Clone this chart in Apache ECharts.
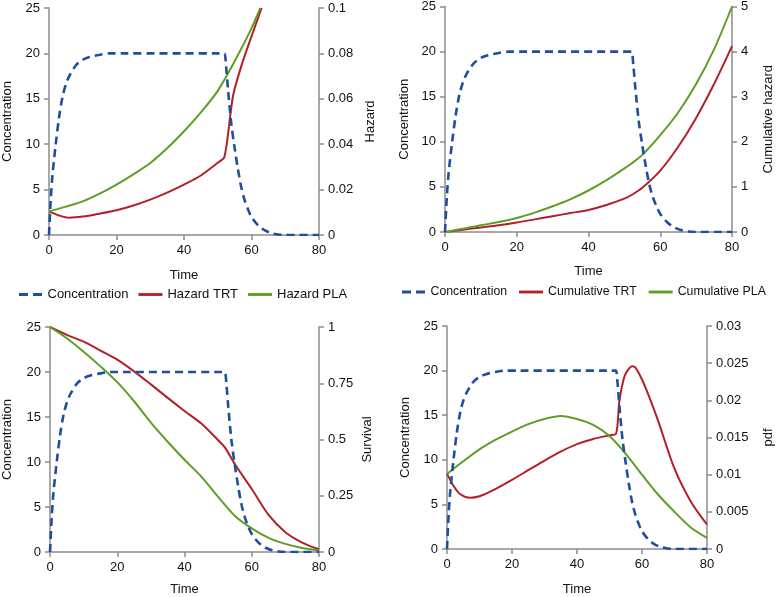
<!DOCTYPE html>
<html><head><meta charset="utf-8">
<script src="https://cdn.jsdelivr.net/npm/echarts@6/dist/echarts.min.js"></script>
<style>html,body{margin:0;padding:0;background:#fff}#c{width:776px;height:597px}</style>
</head><body><div id="c"></div>
<script>
// Concentration (same profile in all four panels)
var concTime   = [0, 0.5, 1, 2, 3, 4, 5, 6, 8, 10, 12, 15, 18, 22, 50, 51.5, 52, 52.5, 53, 54, 55, 56, 57, 58, 59, 60, 62, 64, 66, 68, 70, 80];
var concValues = [0, 3.8, 6.5, 10, 13, 15.2, 16.6, 17.5, 18.7, 19.3, 19.6, 19.85, 20, 20, 20, 20, 20, 18.5, 16.2, 12.3, 9.6, 7.2, 5.2, 3.8, 2.8, 2.0, 1.05, 0.5, 0.2, 0.05, 0, 0];

// Panel 1: hazard
var hazTrtTime   = [0, 3, 6, 10, 15, 20, 25, 30, 35, 40, 45, 50, 52, 54.5, 57, 60, 63];
var hazTrtValues = [0.0104, 0.0086, 0.0076, 0.0081, 0.0094, 0.0109, 0.0130, 0.0156, 0.0187, 0.0222, 0.0262, 0.0318, 0.0345, 0.061, 0.0745, 0.0875, 0.1];
var hazPlaTime   = [0, 5, 10, 15, 20, 25, 30, 35, 40, 45, 50, 55, 60, 62.6];
var hazPlaValues = [0.0104, 0.0125, 0.0148, 0.0182, 0.0222, 0.0267, 0.0317, 0.0382, 0.0457, 0.054, 0.0635, 0.0765, 0.091, 0.1];

// Panel 2: cumulative hazard
var cumTime      = [0, 5, 10, 15, 20, 25, 30, 35, 40, 45, 50, 52, 55, 60, 65, 70, 75, 80];
var cumTrtValues = [0, 0.05, 0.1, 0.15, 0.21, 0.28, 0.35, 0.42, 0.49, 0.6, 0.74, 0.82, 0.98, 1.36, 1.89, 2.53, 3.28, 4.12];
var cumPlaValues = [0, 0.07, 0.15, 0.22, 0.31, 0.43, 0.57, 0.73, 0.92, 1.15, 1.41, 1.52, 1.71, 2.15, 2.65, 3.28, 4.05, 5.0];

// Panel 3: survival
var survTrtTime   = [0, 5, 10, 15, 20, 25, 30, 35, 40, 45, 50, 52, 55, 60, 65, 70, 75, 80];
var survTrtValues = [1, 0.965, 0.935, 0.895, 0.855, 0.803, 0.745, 0.685, 0.627, 0.571, 0.497, 0.465, 0.39, 0.28, 0.165, 0.088, 0.042, 0.012];
var survPlaTime   = [0, 5, 10, 15, 20, 25, 30, 35, 40, 45, 50, 55, 60, 65, 70, 75, 80];
var survPlaValues = [1, 0.95, 0.89, 0.825, 0.755, 0.67, 0.575, 0.49, 0.41, 0.335, 0.245, 0.16, 0.105, 0.063, 0.036, 0.018, 0.007];

// Panel 4: pdf
var pdfTrtTime   = [0, 2, 4, 7, 10, 15, 20, 25, 30, 35, 40, 45, 50, 52, 53, 54, 55, 57, 58, 60, 62, 65, 70, 75, 80];
var pdfTrtValues = [0.0101, 0.0085, 0.0074, 0.0069, 0.0071, 0.0081, 0.0093, 0.0106, 0.0119, 0.0131, 0.0141, 0.0148, 0.0153, 0.0155, 0.0198, 0.0222, 0.0236, 0.0246, 0.0244, 0.0228, 0.0207, 0.0172, 0.0108, 0.0064, 0.0033];
var pdfPlaTime   = [0, 5, 10, 15, 20, 25, 30, 35, 40, 45, 50, 55, 60, 65, 70, 75, 80];
var pdfPlaValues = [0.0101, 0.0118, 0.0134, 0.0147, 0.0158, 0.0168, 0.0175, 0.0179, 0.0175, 0.0167, 0.0152, 0.0128, 0.0100, 0.0073, 0.0050, 0.0029, 0.0015];

var timeTicks = {min: 0, max: 80, interval: 20};

var BLUE = '#1f4e9e', RED = '#b3202a', GREEN = '#5f9e25', AXIS = '#8c8c8c', TXT = '#111';
var FONT = 'Liberation Sans, Arial, sans-serif';
var FS = 13;

function pairs(t, v) { return t.map(function (x, i) { return [x, v[i]]; }); }

var grids = [
  {left: 48, top: 8, width: 271, height: 227},
  {left: 445, top: 6, width: 287, height: 226},
  {left: 48, top: 327, width: 271, height: 226},
  {left: 447, top: 326, width: 264, height: 227}
];

function xAx(i, gap) {
  return {type: 'value', gridIndex: i, min: timeTicks.min, max: timeTicks.max, interval: timeTicks.interval,
    name: 'Time', nameLocation: 'middle', nameGap: gap,
    nameTextStyle: {color: TXT, fontSize: FS, fontFamily: FONT},
    axisLine: {show: true, lineStyle: {color: AXIS, width: 1.5}},
    axisTick: {show: true, length: 5, lineStyle: {color: AXIS, width: 1.5}},
    axisLabel: {color: TXT, fontSize: FS, fontFamily: FONT, margin: 9},
    splitLine: {show: false}};
}
function yAx(i, pos, name, max, interval, gap) {
  return {type: 'value', gridIndex: i, position: pos, min: 0, max: max, interval: interval,
    name: name, nameLocation: 'middle', nameGap: gap, nameRotate: 90,
    nameTextStyle: {color: TXT, fontSize: FS, fontFamily: FONT},
    axisLine: {show: true, lineStyle: {color: AXIS, width: 1.5}},
    axisTick: {show: true, length: 5, lineStyle: {color: AXIS, width: 1.5}},
    axisLabel: {color: TXT, fontSize: FS, fontFamily: FONT, margin: 9},
    splitLine: {show: false}};
}

var xAxes = [xAx(0, 34), xAx(1, 33), xAx(2, 31), xAx(3, 34)];
var yAxes = [
  yAx(0, 'left', 'Concentration', 25, 5, 35),
  yAx(0, 'right', 'Hazard', 0.1, 0.02, 45),
  yAx(1, 'left', 'Concentration', 25, 5, 34),
  yAx(1, 'right', 'Cumulative hazard', 5, 1, 30),
  yAx(2, 'left', 'Concentration', 25, 5, 36),
  yAx(2, 'right', 'Survival', 1, 0.25, 42),
  yAx(3, 'left', 'Concentration', 25, 5, 35),
  yAx(3, 'right', 'pdf', 0.03, 0.005, 55)
];

var DASH_ICON = 'path://M0,0h9v3h-9z M14,0h9v3h-9z';
var LINE_ICON = 'path://M0,0h25v3h-25z';

function conc(i) {
  return {name: 'Concentration', type: 'line', xAxisIndex: i, yAxisIndex: 2 * i, showSymbol: false, symbol: 'none',
    smooth: 0.3, data: pairs(concTime, concValues), legendIcon: DASH_ICON,
    lineStyle: {color: BLUE, width: 2.6, type: [8, 5]}, itemStyle: {color: BLUE}, z: 3};
}
function solid(name, i, t, v, color) {
  return {name: name, type: 'line', xAxisIndex: i, yAxisIndex: 2 * i + 1, symbol: 'none', showSymbol: false,
    smooth: 0.3, data: pairs(t, v), legendIcon: LINE_ICON,
    lineStyle: {color: color, width: 2}, itemStyle: {color: color}, z: 2};
}

var series = [
  conc(0),
  solid('Hazard TRT', 0, hazTrtTime, hazTrtValues, RED),
  solid('Hazard PLA', 0, hazPlaTime, hazPlaValues, GREEN),
  conc(1),
  solid('Cumulative TRT', 1, cumTime, cumTrtValues, RED),
  solid('Cumulative PLA', 1, cumTime, cumPlaValues, GREEN),
  conc(2),
  solid('Survival TRT', 2, survTrtTime, survTrtValues, RED),
  solid('Survival PLA', 2, survPlaTime, survPlaValues, GREEN),
  conc(3),
  solid('pdf TRT', 3, pdfTrtTime, pdfTrtValues, RED),
  solid('pdf PLA', 3, pdfPlaTime, pdfPlaValues, GREEN)
];

function legendData(names) {
  return names.map(function (n) { return {name: n, icon: n === 'Concentration' ? DASH_ICON : LINE_ICON}; });
}
var legends = [
  {padding: 0, itemWidth: 24, itemHeight: 3, itemGap: 10, selectedMode: false,
   textStyle: {color: TXT, fontSize: FS, fontFamily: FONT},
   left: 19, top: 288, width: 360, data: legendData(['Concentration', 'Hazard TRT', 'Hazard PLA'])},
  {padding: 0, itemWidth: 24, itemHeight: 3, itemGap: 12, selectedMode: false,
   textStyle: {color: TXT, fontSize: 12.3, fontFamily: FONT},
   left: 402, top: 286, width: 374, data: legendData(['Concentration', 'Cumulative TRT', 'Cumulative PLA'])}
];

var chart = echarts.init(document.getElementById('c'), null, {renderer: 'canvas'});
chart.setOption({
  animation: false,
  backgroundColor: '#fff',
  grid: grids,
  xAxis: xAxes,
  yAxis: yAxes,
  legend: legends,
  series: series
});
</script>
</body></html>
